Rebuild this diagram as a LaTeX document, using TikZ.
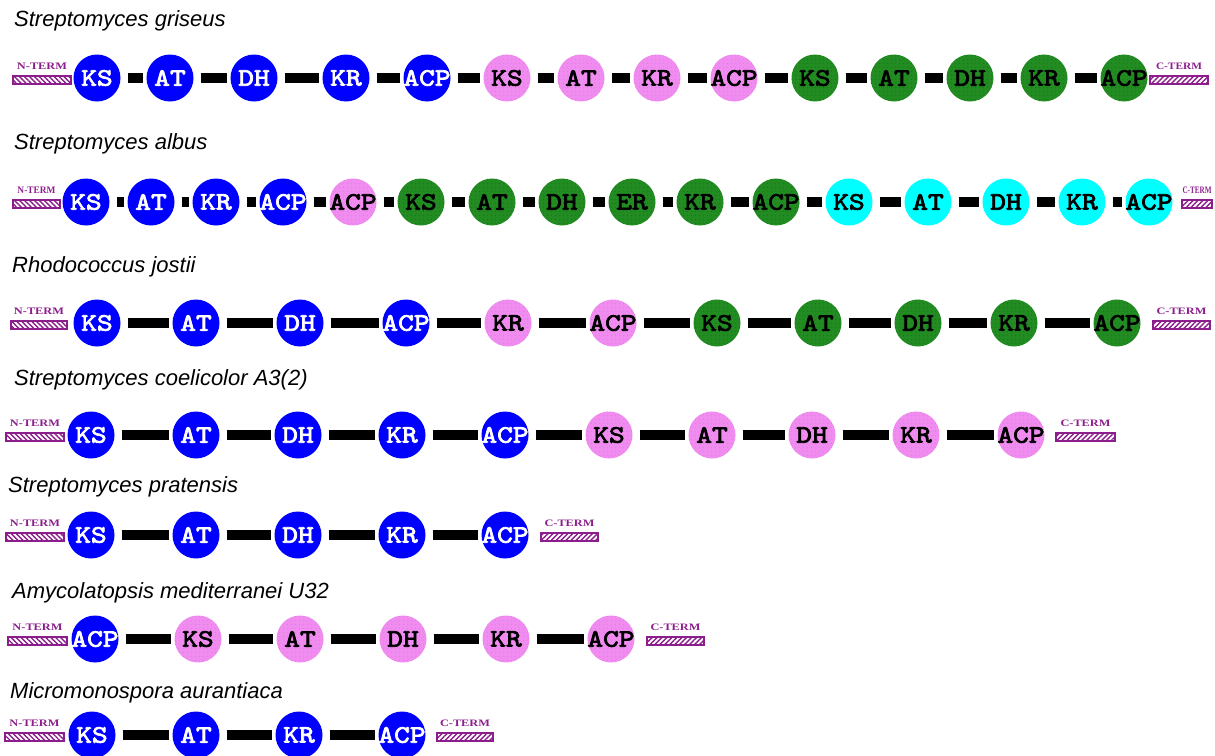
\documentclass[tikz,border=0pt]{standalone}
\usepackage{fontspec}
\usepackage{graphicx}
\setmainfont{Liberation Sans}
\newfontfamily\termfont{Liberation Serif}
\newfontfamily\domfont[FakeBold=3,FakeStretch=1.2]{lmmono10-regular.otf}
\usetikzlibrary{patterns.meta}

\definecolor{domblue}{RGB}{0,0,255}
\definecolor{dompink}{RGB}{240,140,240}
\definecolor{dompinkdot}{RGB}{222,115,222}
\definecolor{domgreen}{RGB}{34,139,34}
\definecolor{domgreendot}{RGB}{18,110,18}
\definecolor{domcyan}{RGB}{0,255,255}
\definecolor{termpurple}{RGB}{140,30,140}

\tikzset{
  dom/.style={circle, minimum size=47pt, inner sep=0pt,
    font=\domfont\fontsize{25}{25}\selectfont},
  domB/.style={dom, fill=domblue, text=white},
  domP/.style={dom, fill=dompink, text=black,
    postaction={pattern={Dots[distance=4pt,radius=0.6pt]}, pattern color=dompinkdot}},
  domG/.style={dom, fill=domgreen, text=black,
    postaction={pattern={Dots[distance=4pt,radius=0.6pt]}, pattern color=domgreendot}},
  domC/.style={dom, fill=domcyan, text=black},
  linker/.style={draw=black, line width=10pt, line cap=butt,
    shorten <=7pt, shorten >=3pt},
  termbox/.style={draw=termpurple, line width=1.2pt, minimum height=8pt,
    inner sep=0pt, pattern color=termpurple},
  termtext/.style={inner sep=0pt, text=termpurple},
  species/.style={anchor=base west, inner sep=0pt,
    font=\itshape\fontsize{22}{22}\selectfont},
}

% one terminus marker: name, centre x, row y, box width, label width, label, hatch angle
\newcommand\pksterm[7]{%
  \node[termbox, minimum width=#4pt,
        pattern={Lines[angle=#7,distance=3.5pt,line width=1.4pt]}] (#1) at (#2,#3+2) {};
  \node[termtext] (#1-t) at (#2,#3-12)
    {\resizebox{#5pt}{6.5pt}{\termfont\bfseries #6}};
}

% one module chain: row prefix, row y, last index, domain list x/label/style
\newcommand\pkschain[4]{%
  \foreach \x/\lab/\sty [count=\i] in {#4}
    {\node[\sty] (#1-\i) at (\x,#2) {\makebox[0pt]{\lab}};}
  \foreach \i [count=\j from 2] in {1,...,#3}
    {\draw[linker] (#1-\i) -- (#1-\j);}
}

\begin{document}
\begin{tikzpicture}[x=1pt, y=-1pt]
\useasboundingbox (0,0) rectangle (1215,755);

% Streptomyces griseus
\node[species] (t1) at (14,26) {Streptomyces griseus};
\pkschain{a}{78}{13}{97/KS/domB,170/AT/domB,254/DH/domB,346/KR/domB,427/ACP/domB,
  507/KS/domP,581/AT/domP,657/KR/domP,734/ACP/domP,
  815/KS/domG,894/AT/domG,970/DH/domG,1044/KR/domG,1124/ACP/domG}
\pksterm{a-n}{42}{78}{58}{50}{N-TERM}{-45}
\pksterm{a-c}{1179}{78}{58}{46}{C-TERM}{45}

% Streptomyces albus
\node[species] (t2) at (14,149) {Streptomyces albus};
\pkschain{b}{202}{15}{86/KS/domB,151/AT/domB,216/KR/domB,283/ACP/domB,
  353/ACP/domP,421/KS/domG,492/AT/domG,562/DH/domG,632/ER/domG,700/KR/domG,776/ACP/domG,
  849/KS/domC,928/AT/domC,1006/DH/domC,1082/KR/domC,1149/ACP/domC}
\pksterm{b-n}{36.5}{202}{47}{38}{N-TERM}{-45}
\pksterm{b-c}{1197}{202}{30}{29}{C-TERM}{45}

% Rhodococcus jostii
\node[species] (t3) at (12,272) {Rhodococcus jostii};
\pkschain{c}{323}{10}{97/KS/domB,196/AT/domB,300/DH/domB,406/ACP/domB,
  508/KR/domP,613/ACP/domP,
  717/KS/domG,818/AT/domG,918/DH/domG,1014/KR/domG,1117/ACP/domG}
\pksterm{c-n}{39}{323}{56}{50}{N-TERM}{-45}
\pksterm{c-c}{1181.5}{323}{57}{50}{C-TERM}{45}

% Streptomyces coelicolor A3(2)
\node[species] (t4) at (14,385) {Streptomyces coelicolor A3(2)};
\pkschain{d}{435}{9}{91/KS/domB,196/AT/domB,298/DH/domB,402/KR/domB,505/ACP/domB,
  609/KS/domP,712/AT/domP,812/DH/domP,916/KR/domP,1021/ACP/domP}
\pksterm{d-n}{35}{435}{58}{50}{N-TERM}{-45}
\pksterm{d-c}{1085.5}{435}{59}{50}{C-TERM}{45}

% Streptomyces pratensis
\node[species] (t5) at (8,492) {Streptomyces pratensis};
\pkschain{e}{535}{4}{91/KS/domB,196/AT/domB,298/DH/domB,402/KR/domB,505/ACP/domB}
\pksterm{e-n}{35}{535}{58}{50}{N-TERM}{-45}
\pksterm{e-c}{569.5}{535}{57}{50}{C-TERM}{45}

% Amycolatopsis mediterranei U32
\node[species] (t6) at (12,598) {Amycolatopsis mediterranei U32};
\pkschain{f}{639}{5}{95/ACP/domB,198/KS/domP,300/AT/domP,403/DH/domP,506/KR/domP,611/ACP/domP}
\pksterm{f-n}{37.5}{639}{59}{50}{N-TERM}{-45}
\pksterm{f-c}{675.5}{639}{57}{50}{C-TERM}{45}

% Micromonospora aurantiaca
\node[species] (t7) at (10,698) {Micromonospora aurantiaca};
\pkschain{g}{735}{3}{92/KS/domB,196/AT/domB,299/KR/domB,402/ACP/domB}
\pksterm{g-n}{34.5}{735}{59}{50}{N-TERM}{-45}
\pksterm{g-c}{465}{735}{56}{50}{C-TERM}{45}

\end{tikzpicture}
\end{document}
